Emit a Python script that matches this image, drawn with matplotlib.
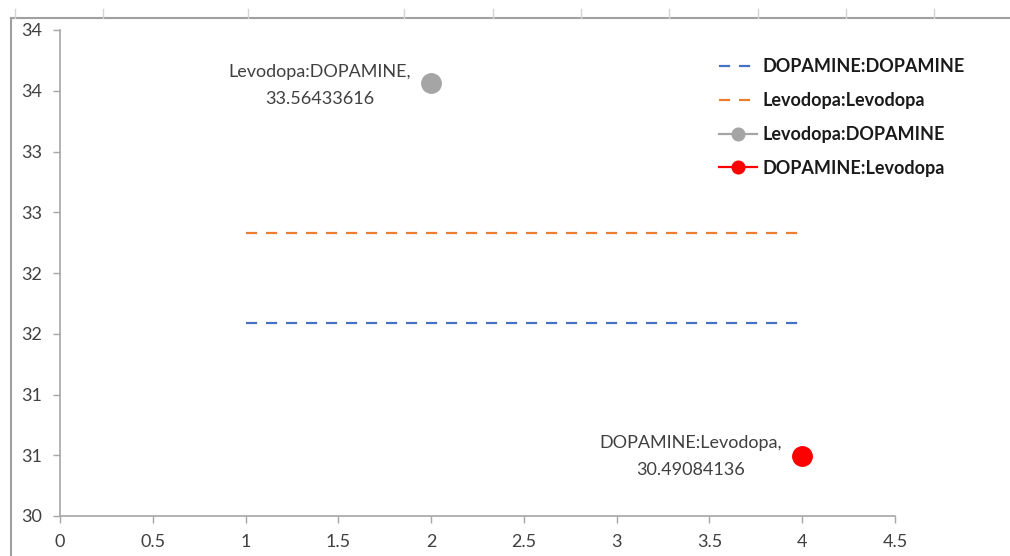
import matplotlib
matplotlib.use('Agg')
import matplotlib.pyplot as plt
from matplotlib.lines import Line2D

plt.rcParams['font.family'] = ['Lato', 'DejaVu Sans']

# series data
dd_x = [1, 4]
dd_y = [31.588, 31.588]
ll_x = [1, 4]
ll_y = [32.329, 32.329]
ld_x = [2]
ld_y = [33.56433616]
dl_x = [4]
dl_y = [30.49084136]

x_ticks = [0, 0.5, 1, 1.5, 2, 2.5, 3, 3.5, 4, 4.5]
x_labels = ['0', '0.5', '1', '1.5', '2', '2.5', '3', '3.5', '4', '4.5']
y_ticks = [30, 30.5, 31, 31.5, 32, 32.5, 33, 33.5, 34]
y_labels = ['30', '31', '31', '32', '32', '33', '33', '34', '34']

W, H = 1010, 556
FS = 13
fig = plt.figure(figsize=(W / 100, H / 100), dpi=100)
ax = fig.add_axes([60 / W, 1 - 516 / H, (895 - 60) / W, (516 - 30) / H])

ax.plot(dd_x, dd_y, color='#4472C4', lw=1.6, dashes=(5, 4), label='DOPAMINE:DOPAMINE')
ax.plot(ll_x, ll_y, color='#ED7D31', lw=1.6, dashes=(5, 4), label='Levodopa:Levodopa')
ax.plot(ld_x, ld_y, '-o', color='#A5A5A5', lw=1.6, ms=14, label='Levodopa:DOPAMINE')
ax.plot(dl_x, dl_y, '-o', color='#FF0000', lw=1.6, ms=14, label='DOPAMINE:Levodopa')

lab_kw = dict(textcoords='offset pixels', ha='right', va='center', ma='center',
              fontsize=FS, color='#404040', linespacing=1.85)
ax.annotate('Levodopa:DOPAMINE,\n%.8f' % ld_y[0], (ld_x[0], ld_y[0]),
            xytext=(-20, -3), **lab_kw)
ax.annotate('DOPAMINE:Levodopa,\n%.8f' % dl_y[0], (dl_x[0], dl_y[0]),
            xytext=(-20, 0), **lab_kw)

ax.set_xlim(0, 4.5)
ax.set_ylim(30, 34)
ax.set_xticks(x_ticks)
ax.set_xticklabels(x_labels)
ax.set_yticks(y_ticks)
ax.set_yticklabels(y_labels)
ax.tick_params(axis='both', direction='out', length=5, width=1, color='#A6A6A6',
               labelsize=FS, labelcolor='#404040')
ax.tick_params(axis='x', pad=8)
ax.tick_params(axis='y', pad=8)
for s in ['top', 'right']:
    ax.spines[s].set_visible(False)
for s in ['left', 'bottom']:
    ax.spines[s].set_color('#A6A6A6')
    ax.spines[s].set_linewidth(1.2)

leg = ax.legend(loc='upper left', bbox_to_anchor=(703 / W, 1 - 42 / H),
                bbox_transform=fig.transFigure, frameon=False,
                prop={'weight': 'bold', 'size': FS}, handlelength=2.1,
                handletextpad=0.3, labelspacing=0.93, markerscale=0.65)
for t in leg.get_texts():
    t.set_color('#1a1a1a')

# sheet / chart-area edges visible in the screenshot
fig.add_artist(Line2D([11 / W, 1], [1 - 18 / H, 1 - 18 / H], color='#A0A0A0', lw=1.5))
fig.add_artist(Line2D([11 / W, 11 / W], [0, 1 - 18 / H], color='#A0A0A0', lw=1.5))
for gx in [15, 103, 248, 404, 493, 581, 669, 758, 846, 934]:
    fig.add_artist(Line2D([gx / W, gx / W], [1 - 9 / H, 1 - 18 / H], color='#D4D4D4', lw=1))

fig.savefig('out.png', dpi=100)
